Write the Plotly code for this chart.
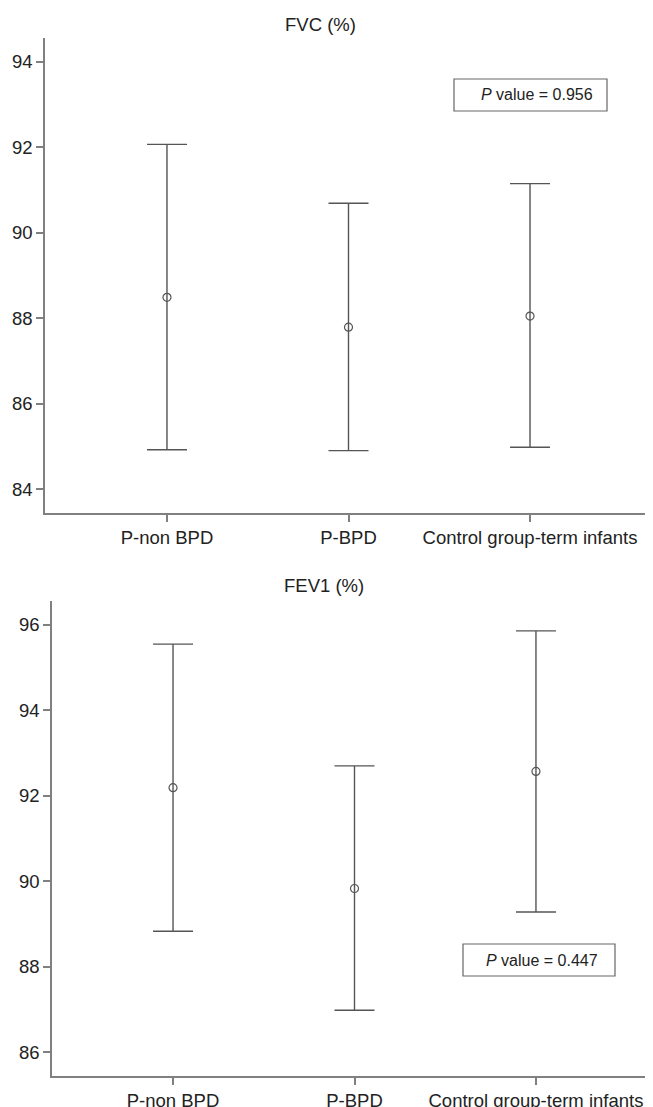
import plotly.graph_objects as go

categories = ["P-non BPD", "P-BPD", "Control group-term infants"]

fvc_mean = [88.49, 87.79, 88.05]
fvc_upper = [92.07, 90.69, 91.15]
fvc_lower = [84.92, 84.90, 84.98]

fev1_mean = [92.19, 89.83, 92.57]
fev1_upper = [95.55, 92.70, 95.86]
fev1_lower = [88.83, 86.98, 89.28]

fvc_ticks = [84, 86, 88, 90, 92, 94]
fev1_ticks = [86, 88, 90, 92, 94, 96]

fvc_title = "FVC (%)"
fev1_title = "FEV1 (%)"
fvc_p = "0.956"
fev1_p = "0.447"

# page body has an 8px margin; the figure is sized to fill the rest of the window
OFF = 8
W, H = 653 - OFF, 1107 - OFF
FONT = "Liberation Sans, Arial, sans-serif"
TXT = "#222222"
AXC = "#808080"
BARC = "#555555"


def px(x):
    return (x - OFF) / W


def py(y):
    return 1 - (y - OFF) / H


def trace(mean, upper, lower, xa, ya):
    return go.Scatter(
        x=categories,
        y=mean,
        mode="markers",
        xaxis=xa,
        yaxis=ya,
        marker=dict(symbol="circle-open", size=8, color=BARC, line=dict(width=1.2, color=BARC)),
        error_y=dict(
            type="data",
            symmetric=False,
            array=[u - m for u, m in zip(upper, mean)],
            arrayminus=[m - l for m, l in zip(mean, lower)],
            color=BARC,
            thickness=1.4,
            width=20,
        ),
        showlegend=False,
        hoverinfo="skip",
    )


fig = go.Figure()
fig.add_trace(trace(fvc_mean, fvc_upper, fvc_lower, "x", "y"))
fig.add_trace(trace(fev1_mean, fev1_upper, fev1_lower, "x2", "y2"))

xcommon = dict(
    type="category",
    showline=True, linecolor=AXC, linewidth=1.5,
    ticks="outside", ticklen=7, tickcolor=AXC, tickwidth=1.5,
    showgrid=False, zeroline=False, automargin=False,
    tickfont=dict(family=FONT, size=18.5, color=TXT),
)
ycommon = dict(
    showline=True, linecolor=AXC, linewidth=1.5,
    ticks="outside", ticklen=7, tickcolor=AXC, tickwidth=1.5,
    showgrid=False, zeroline=False, automargin=False,
    tickfont=dict(family=FONT, size=18.5, color=TXT),
)

ann_font = dict(family=FONT, size=18.5, color=TXT)
p_font = dict(family=FONT, size=16, color=TXT)

fig.update_layout(
    template="none",
    width=W, height=H,
    margin=dict(l=0, r=0, t=0, b=0),
    paper_bgcolor="white", plot_bgcolor="white",
    xaxis=dict(xcommon, domain=[px(45), px(652)], range=[-0.672, 2.672], anchor="y"),
    yaxis=dict(ycommon, domain=[py(513), py(38)], range=[83.44, 94.56], tickvals=fvc_ticks, anchor="x"),
    xaxis2=dict(xcommon, domain=[px(52), 1.0], range=[-0.667, 2.645], anchor="y2"),
    yaxis2=dict(ycommon, domain=[py(1076), py(601)], range=[85.44, 96.56], tickvals=fev1_ticks, anchor="x2"),
    shapes=[
        dict(type="rect", xref="paper", yref="paper",
             x0=px(454), x1=px(607), y0=py(111), y1=py(79),
             line=dict(color="#666666", width=1.2), fillcolor="rgba(0,0,0,0)"),
        dict(type="rect", xref="paper", yref="paper",
             x0=px(463), x1=px(615), y0=py(976), y1=py(944),
             line=dict(color="#666666", width=1.2), fillcolor="rgba(0,0,0,0)"),
    ],
    annotations=[
        dict(text=fvc_title, xref="paper", yref="paper", x=px(320), y=py(24),
             xanchor="center", yanchor="middle", showarrow=False, font=ann_font),
        dict(text=fev1_title, xref="paper", yref="paper", x=px(324), y=py(585),
             xanchor="center", yanchor="middle", showarrow=False, font=ann_font),
        dict(text="<i>P</i> value = " + fvc_p, xref="paper", yref="paper", x=px(537), y=py(95),
             xanchor="center", yanchor="middle", showarrow=False, font=p_font),
        dict(text="<i>P</i> value = " + fev1_p, xref="paper", yref="paper", x=px(542), y=py(960),
             xanchor="center", yanchor="middle", showarrow=False, font=p_font),
    ],
)

fig.write_html("out.html")
